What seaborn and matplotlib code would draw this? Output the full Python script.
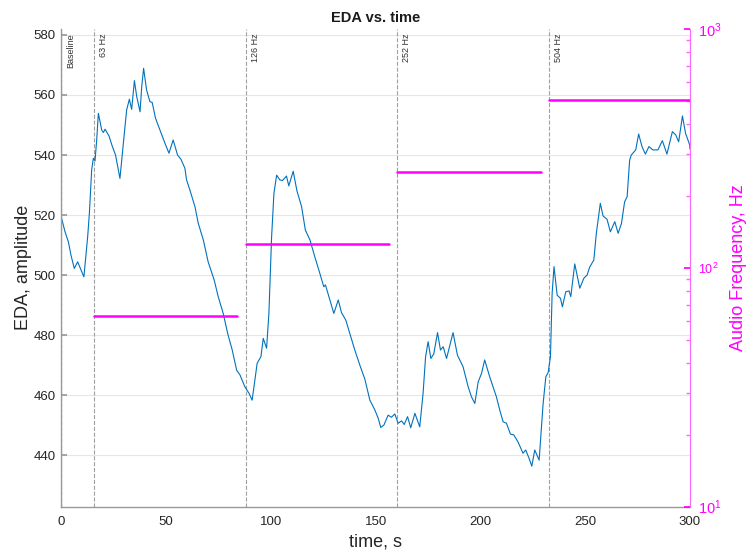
import matplotlib
matplotlib.use('Agg')
import matplotlib.pyplot as plt
import matplotlib.transforms as mtransforms
from matplotlib.ticker import FixedLocator, LogLocator, NullFormatter
import seaborn as sns
import pandas as pd

# EDA 신호
time_s = [0, 1.7, 3.3, 4.5, 6.1, 7.7, 9.3, 10.7, 12.5, 13.3, 14.4, 15.2, 16.0, 16.8, 17.6,
          19.2, 20.0, 20.8, 22.7, 24.3, 25.8, 27.9, 29.2, 30.3, 31.1, 32.4, 33.5, 34.8, 35.9,
          37.5, 38.3, 39.2, 40.6, 42.2, 43.3, 44.9, 47.0, 49.4, 51.3, 53.3, 55.4, 57.0, 58.9,
          59.7, 61.3, 63.7, 65.3, 67.7, 70.0, 72.9, 74.8, 77.2, 79.3, 81.5, 83.6, 85.2, 87.5,
          89.5, 91.0, 92.3, 93.4, 95.2, 96.3, 97.9, 99.0, 100.3, 101.4, 102.7, 104.2, 105.5,
          107.4, 108.5, 110.6, 112.4, 114.6, 116.4, 118.6, 120.9, 123.3, 125.2, 126.0, 128.1,
          130.0, 132.1, 133.7, 135.7, 137.6, 140.0, 142.4, 144.8, 147.2, 149.6, 151.2, 152.4,
          153.9, 155.9, 157.5, 159.1, 160.7, 162.3, 163.6, 165.2, 166.7, 168.7, 171.0, 172.6,
          173.8, 175.0, 176.3, 177.7, 179.5, 180.9, 182.2, 183.8, 186.9, 189.0, 191.7, 194.1,
          195.7, 197.3, 198.9, 200.5, 202.0, 204.4, 207.6, 209.2, 210.8, 212.4, 214.3, 215.9,
          217.9, 220.3, 221.6, 223.2, 224.5, 225.9, 228.0, 229.9, 231.2, 232.3, 233.4, 234.2,
          235.1, 236.6, 238.2, 239.1, 240.7, 242.3, 243.1, 245.0, 247.4, 249.3, 250.9, 252.1,
          254.1, 255.3, 257.2, 258.5, 260.4, 262.0, 264.1, 265.7, 267.3, 268.8, 270.0, 271.2,
          272.0, 274.1, 275.5, 277.1, 278.7, 280.4, 282.3, 284.7, 286.8, 289.0, 291.6, 293.2,
          294.6, 296.4, 297.9, 299.9, 300.0]
eda = [519, 514.4, 511, 506.7, 502.2, 504.4, 501.7, 499.4, 512.8, 520.5, 535, 538.9, 538, 545, 553.9,
       548.3, 547.5, 548.6, 546.3, 542.8, 540, 532.2, 541.7, 549.4, 555, 558.6, 555.2, 564.8, 559.5,
       554.4, 562.8, 568.9, 561.7, 557.8, 557.5, 552.2, 548.3, 543.9, 540.6, 545, 540, 538.6, 535.6,
       531.7, 528.3, 522.8, 517.2, 511.7, 504.4, 498.3, 492.8, 487.2, 480.6, 475, 468.3, 466.7, 462.8,
       460.6, 458.3, 465, 470.6, 472.8, 478.9, 475.6, 487.2, 512.8, 527.2, 533.3, 531.7, 531.5,
       533, 529.7, 534.6, 528, 522.8, 515, 511.7, 506.1, 500.6, 496.1, 496.7, 491.7,
       487.2, 491.7, 487.4, 485, 480.6, 475, 470, 465.3, 458.3, 455, 452.2, 449.2,
       450, 453.3, 452.6, 453.7, 450.6, 451.4, 450.2, 452.8, 449.1, 453.9, 449.4, 460.6,
       472.8, 477.8, 472.2, 473.7, 480.8, 475, 476.1, 472.2, 480.8, 473.3, 469.4, 462.8,
       459.4, 457.2, 464.4, 467.2, 471.7, 466.1, 459.4, 455, 451.1, 450.6, 447, 446.7,
       444.4, 440.6, 441.7, 438.9, 436.3, 441.7, 438.3, 457.2, 466.1, 467.5, 472.8, 493.9,
       502.8, 493.3, 492.2, 489.4, 494.4, 494.7, 492.8, 503.7, 495.6, 498.9, 500, 502.6,
       505, 513.9, 523.9, 519.7, 518.6, 514.4, 517.8, 513.9, 517.2, 524.4, 526.1, 538.3,
       540, 541.7, 547, 542.8, 540.3, 542.8, 541.7, 541.7, 544.8, 540.3, 547.8, 546.7,
       544.4, 553, 547.2, 543.3, 542]

# 자극 구간
marker_times = [0, 15.6, 88.0, 160.3, 232.8]
marker_labels = ['Baseline', '63 Hz', '126 Hz', '252 Hz', '504 Hz']
tone_start = [15.6, 88.0, 160.3, 232.8]
tone_end = [83.8, 156.2, 228.9, 300.0]
tone_freq = [63, 126, 252, 504]

sns.set_theme(style='white')
plt.rcParams['font.family'] = ['Liberation Sans', 'DejaVu Sans']
plt.rcParams['mathtext.fontset'] = 'custom'
plt.rcParams['mathtext.rm'] = 'Liberation Sans'
plt.rcParams['mathtext.it'] = 'Liberation Sans:italic'
plt.rcParams['mathtext.bf'] = 'Liberation Sans:bold'

fig = plt.figure(figsize=(7.49, 5.52), dpi=100)
ax = fig.add_axes([0.0821, 0.0821, 0.8391, 0.8654])

ax.yaxis.grid(True, color='#e6e6e6', lw=0.8)
ax.set_axisbelow(True)

df = pd.DataFrame({'time': time_s, 'eda': eda})
sns.lineplot(x='time', y='eda', data=df, ax=ax, color='#0072BD', lw=0.8, estimator=None, sort=False)

trans = mtransforms.blended_transform_factory(ax.transData, ax.transAxes)
for t, lab in zip(marker_times, marker_labels):
    c = '#333333' if t == 0 else '#a0a0a0'
    ax.axvline(t, color=c, ls='--', lw=0.8, zorder=1)
    ax.text(t + 2.4, 0.99, lab, rotation=90, va='top', ha='left', fontsize=6.5,
            color='#333333', transform=trans)

ax.set_xlim(0, 300)
ax.set_ylim(422.8, 582)
ax.set_xticks([0, 50, 100, 150, 200, 250, 300])
ax.set_yticks([440, 460, 480, 500, 520, 540, 560, 580])
ax.tick_params(axis='both', direction='in', length=4, color='#999999',
               labelcolor='#262626', labelsize=9.5)
ax.tick_params(axis='x', pad=7)
ax.tick_params(axis='y', pad=4)
for s in ['top', 'right']:
    ax.spines[s].set_visible(False)
for s in ['left', 'bottom']:
    ax.spines[s].set_color('#999999')
    ax.spines[s].set_linewidth(1.0)

ax.set_xlabel('time, s', fontsize=13, color='#262626', labelpad=4)
ax.set_ylabel('EDA, amplitude', fontsize=13, color='#262626', labelpad=1)
ax.set_title('EDA vs. time', fontsize=10.5, fontweight='bold', color='#1a1a1a', pad=5)

# 오른쪽 축: 주파수 (로그)
ax2 = ax.twinx()
for i in range(len(tone_freq)):
    sns.lineplot(x=[tone_start[i], tone_end[i]], y=[tone_freq[i], tone_freq[i]], ax=ax2,
                 color='#ff00ff', lw=1.8)
ax2.set_yscale('log')
ax2.set_ylim(10, 1000)
ax2.yaxis.set_major_locator(FixedLocator([10, 100, 1000]))
ax2.yaxis.set_minor_locator(LogLocator(base=10, subs=range(2, 10)))
ax2.yaxis.set_minor_formatter(NullFormatter())
ax2.tick_params(axis='y', which='major', direction='in', length=4, color='#ff00ff',
                labelcolor='#ff00ff', labelsize=10.5, pad=6)
ax2.tick_params(axis='y', which='minor', direction='in', length=3, color='#ff66ff')
for s in ['top', 'left', 'bottom']:
    ax2.spines[s].set_visible(False)
ax2.spines['right'].set_color('#ff66ff')
ax2.spines['right'].set_linewidth(0.8)
ax2.set_ylabel('Audio Frequency, Hz', fontsize=13, color='#ff00ff', labelpad=6)
ax2.set_xlim(0, 300)

fig.canvas.draw()
labs = ax2.get_yticklabels()
labs[1].set_fontsize(9)

plt.savefig('out.png', dpi=100)
